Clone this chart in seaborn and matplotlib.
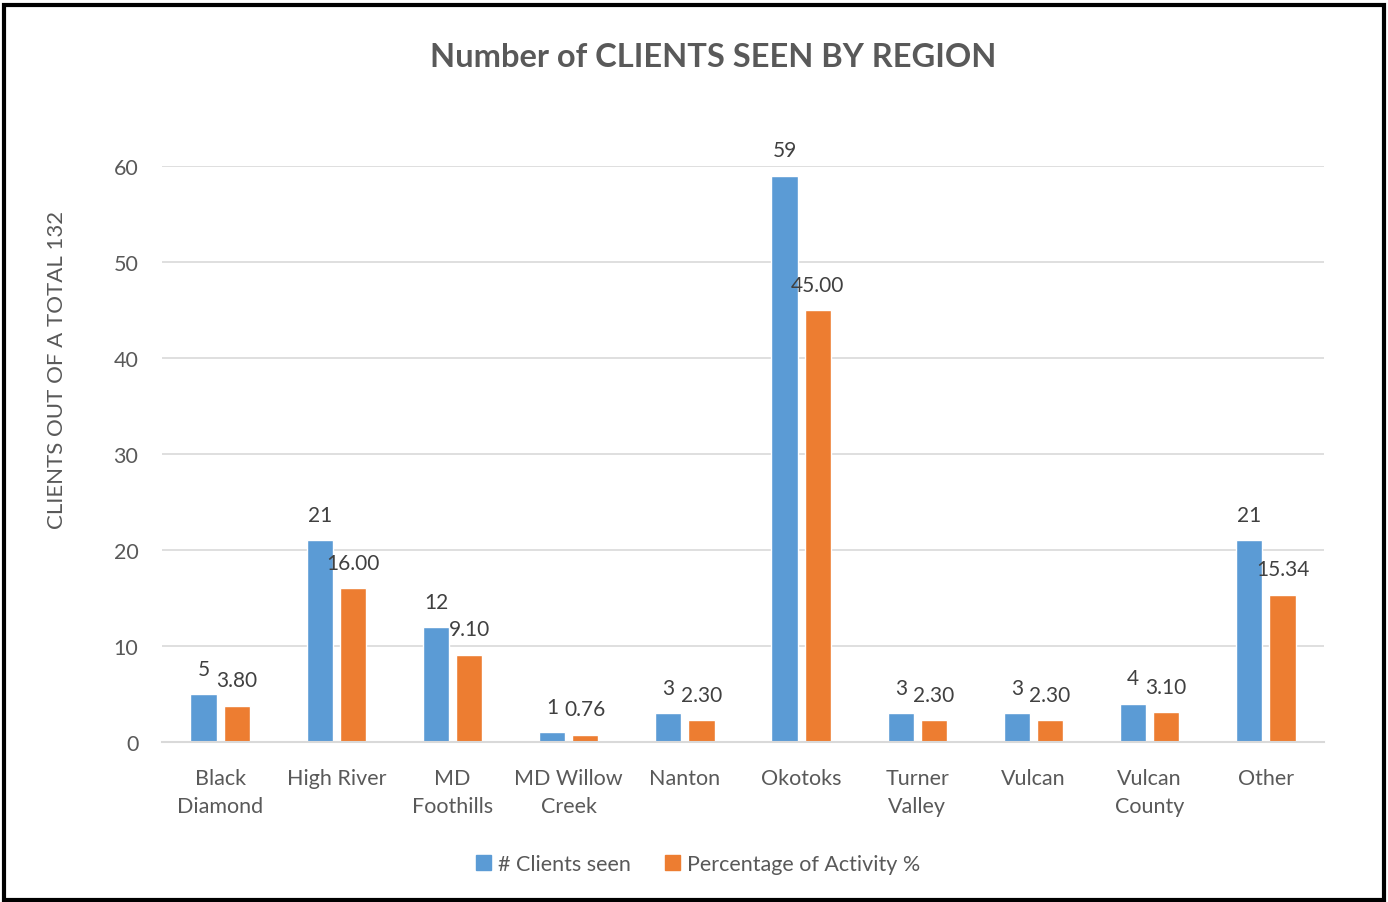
import pandas as pd
import seaborn as sns
import matplotlib.pyplot as plt
from matplotlib.patches import Rectangle

# ---- Data
regions = ["Black\nDiamond", "High River", "MD\nFoothills", "MD Willow\nCreek", "Nanton",
           "Okotoks", "Turner\nValley", "Vulcan", "Vulcan\nCounty", "Other"]
clients_seen = [5, 21, 12, 1, 3, 59, 3, 3, 4, 21]
pct_activity = [3.80, 16.00, 9.10, 0.76, 2.30, 45.00, 2.30, 2.30, 3.10, 15.34]
series_names = ["# Clients seen", "Percentage of Activity %"]

df = pd.DataFrame({
    "Region": regions * 2,
    "Value": clients_seen + pct_activity,
    "Series": [series_names[0]] * len(regions) + [series_names[1]] * len(regions),
})

# ---- Style
sns.set_style("white")
plt.rcParams["font.family"] = ["Lato", "DejaVu Sans"]
grey = "#595959"
colors = ["#5B9BD5", "#ED7D31"]

fig = plt.figure(figsize=(13.88, 9.03), dpi=100)
ax = fig.add_axes([0.1167, 0.1772, 0.8372, 0.6379])

sns.barplot(data=df, x="Region", y="Value", hue="Series", palette=colors,
            width=0.57, gap=0.21, saturation=1, ax=ax, legend=False)

# data labels
for i, cont in enumerate(ax.containers):
    fmt = "{:.0f}" if i == 0 else "{:.2f}"
    labels = [fmt.format(v) for v in cont.datavalues]
    ax.bar_label(cont, labels=labels, padding=11, fontsize=15, color="#404040",
                 clip_on=False)

ax.set_ylim(0, 60)
ax.set_yticks(range(0, 61, 10))
ax.yaxis.grid(True, color="#D9D9D9", linewidth=1.2)
ax.set_axisbelow(True)
for s in ["top", "right", "left"]:
    ax.spines[s].set_visible(False)
ax.spines["bottom"].set_color("#D9D9D9")
ax.spines["bottom"].set_linewidth(1.5)
ax.tick_params(axis="both", length=0, labelsize=15.5, colors=grey)
ax.tick_params(axis="x", pad=19)
ax.tick_params(axis="y", pad=17)
ax.set_xlabel("")
ax.set_ylabel("CLIENTS OUT OF A TOTAL 132", fontsize=16, color=grey)
ax.yaxis.set_label_coords(-0.082, 0.648)
for lbl in ax.get_xticklabels():
    lbl.set_linespacing(1.5)

fig.suptitle("Number of CLIENTS SEEN BY REGION", x=0.514, y=0.952, fontsize=23.5,
             fontweight="bold", color=grey)

# legend
handles = [Rectangle((0, 0), 1, 1, color=c) for c in colors]
fig.legend(handles, series_names, loc="center", bbox_to_anchor=(0.503, 0.042),
           ncol=2, frameon=False, fontsize=15.5, labelcolor=grey,
           handlelength=0.7, handleheight=0.7, handletextpad=0.3, columnspacing=1.6)

# outer border
fig.add_artist(Rectangle((0.003, 0.002), 0.994, 0.991, transform=fig.transFigure,
                         fill=False, edgecolor="black", linewidth=3))

fig.savefig("out.png", dpi=100)
